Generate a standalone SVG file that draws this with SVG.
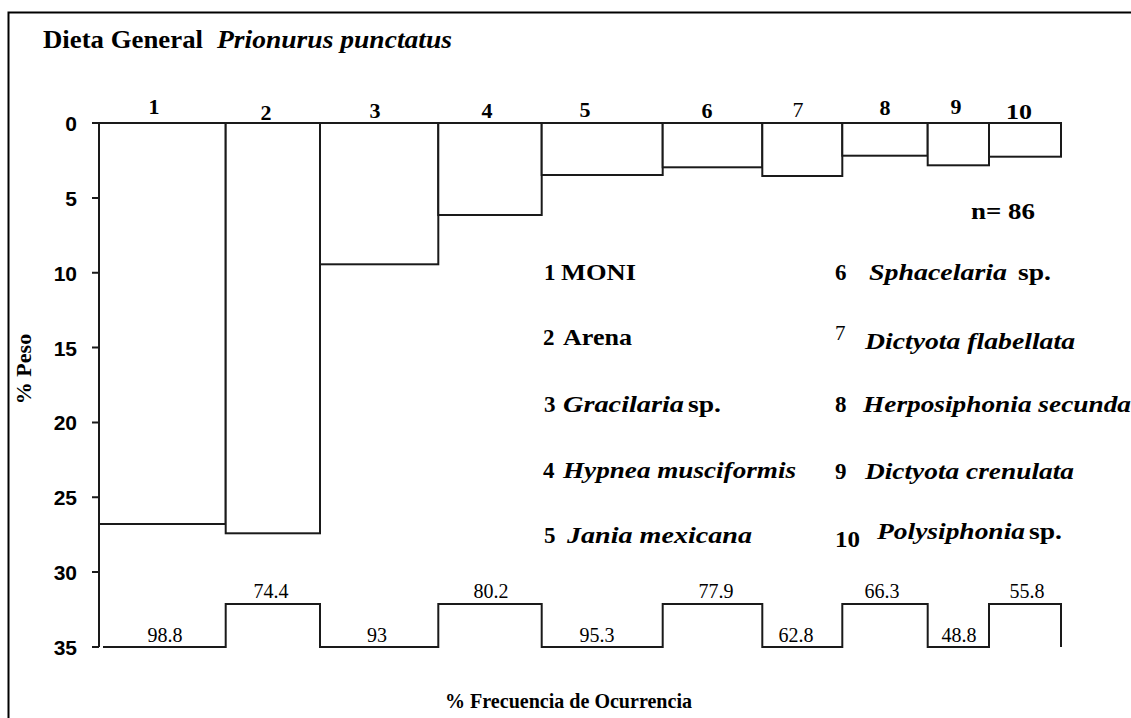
<svg xmlns="http://www.w3.org/2000/svg" width="1131" height="718" viewBox="0 0 1131 718">
<style>
.ln{fill:none;stroke:#1a1a1a;stroke-width:2}
.bar{fill:#fff;stroke:#1a1a1a;stroke-width:2}
.tk{font-family:"Liberation Sans",Arial,sans-serif;font-weight:bold;font-size:21px;fill:#000;text-anchor:end}
.sb{font-family:"Liberation Serif","Times New Roman",serif;font-weight:bold;fill:#000}
.sn{font-family:"Liberation Serif","Times New Roman",serif;font-weight:normal;fill:#000}
.si{font-family:"Liberation Serif","Times New Roman",serif;font-weight:bold;font-style:italic;fill:#000}
.sr{font-family:"Liberation Serif","Times New Roman",serif;fill:#000;font-size:20px;text-anchor:middle}
.num{font-size:22px;text-anchor:middle}
.lg{font-size:23px}
</style>
<rect x="0" y="0" width="1131" height="718" fill="#fff"/>
<rect id="frame" x="8.5" y="12.5" width="1200" height="800" fill="none" stroke="#000" stroke-width="2"/>
<g id="title">
<text class="sb" x="43" y="48" font-size="25" textLength="160" lengthAdjust="spacingAndGlyphs">Dieta General</text>
<text class="si" x="217" y="48" font-size="25" textLength="235" lengthAdjust="spacingAndGlyphs">Prionurus punctatus</text>
</g>
<g id="bars">
<rect class="bar" x="99" y="123" width="126.7" height="401"/>
<rect class="bar" x="225.7" y="123" width="94.3" height="410.3"/>
<rect class="bar" x="320" y="123" width="118.3" height="141.3"/>
<rect class="bar" x="438.3" y="123" width="103.4" height="92"/>
<rect class="bar" x="541.7" y="123" width="121" height="52"/>
<rect class="bar" x="662.7" y="123" width="99.6" height="44.3"/>
<rect class="bar" x="762.3" y="123" width="80" height="53"/>
<rect class="bar" x="842.3" y="123" width="85.4" height="32.7"/>
<rect class="bar" x="927.7" y="123" width="61.3" height="42.3"/>
<rect class="bar" x="989" y="123" width="72" height="33.7"/>
</g>
<g id="axis">
<path class="ln" d="M99 123V647M92 123H99M92 198H99M92 272.7H99M92 347.6H99M92 422.4H99M92 497.2H99M92 572H99M92 647H99"/>
<text class="tk" x="77" y="131">0</text>
<text class="tk" x="77" y="206">5</text>
<text class="tk" x="77" y="281">10</text>
<text class="tk" x="77" y="356">15</text>
<text class="tk" x="77" y="430">20</text>
<text class="tk" x="77" y="505">25</text>
<text class="tk" x="77" y="580">30</text>
<text class="tk" x="77" y="655">35</text>
<text class="sb" font-size="22" text-anchor="middle" transform="translate(31,369) rotate(-90)">% Peso</text>
</g>
<g id="freq">
<path class="ln" d="M103 647H225.7V604H320V647H438.3V604H541.7V647H662.7V604H762.3V647H842.3V604H927.7V647H989V604H1061V647"/>
<text class="sr" x="165" y="642">98.8</text>
<text class="sr" x="271" y="598">74.4</text>
<text class="sr" x="377" y="642">93</text>
<text class="sr" x="491" y="598">80.2</text>
<text class="sr" x="597" y="642">95.3</text>
<text class="sr" x="716" y="598">77.9</text>
<text class="sr" x="796" y="642">62.8</text>
<text class="sr" x="882" y="598">66.3</text>
<text class="sr" x="959" y="642">48.8</text>
<text class="sr" x="1027" y="598">55.8</text>
<text class="sb" x="445" y="708" font-size="22" textLength="247" lengthAdjust="spacingAndGlyphs">% Frecuencia de Ocurrencia</text>
</g>
<g id="cats">
<text class="sb num" x="154" y="114">1</text>
<text class="sb num" x="266" y="120">2</text>
<text class="sb num" x="375" y="118">3</text>
<text class="sb num" x="487" y="118">4</text>
<text class="sb num" x="585" y="117">5</text>
<text class="sb num" x="707" y="118">6</text>
<text class="sn num" x="798" y="117">7</text>
<text class="sb num" x="885" y="115">8</text>
<text class="sb num" x="956" y="114">9</text>
<text class="sb num" x="1019" y="119" textLength="26" lengthAdjust="spacingAndGlyphs">10</text>
<text class="sb" x="971" y="219" font-size="23" textLength="64" lengthAdjust="spacingAndGlyphs">n= 86</text>
</g>
<g id="legend">
<text class="sb lg" x="544" y="280">1<tspan x="561" textLength="75" lengthAdjust="spacingAndGlyphs">MONI</tspan></text>
<text class="sb lg" x="543" y="345">2<tspan x="563" textLength="69" lengthAdjust="spacingAndGlyphs">Arena</tspan></text>
<text class="sb lg" x="544" y="412">3<tspan class="si" x="563" textLength="121" lengthAdjust="spacingAndGlyphs">Gracilaria</tspan><tspan x="688" textLength="33" lengthAdjust="spacingAndGlyphs">sp.</tspan></text>
<text class="sb lg" x="543" y="478">4<tspan class="si" x="563" textLength="233" lengthAdjust="spacingAndGlyphs">Hypnea musciformis</tspan></text>
<text class="sb lg" x="544" y="543">5<tspan class="si" x="567" textLength="185" lengthAdjust="spacingAndGlyphs">Jania mexicana</tspan></text>
<text class="sb lg" x="835" y="280">6<tspan class="si" x="869" textLength="138" lengthAdjust="spacingAndGlyphs">Sphacelaria</tspan><tspan x="1018" textLength="33" lengthAdjust="spacingAndGlyphs">sp.</tspan></text>
<text class="sn" x="835" y="340" font-size="21">7</text>
<text class="si lg" x="865" y="349" textLength="210" lengthAdjust="spacingAndGlyphs">Dictyota flabellata</text>
<text class="sb lg" x="835" y="412">8<tspan class="si" x="863" textLength="268" lengthAdjust="spacingAndGlyphs">Herposiphonia secunda</tspan></text>
<text class="sb lg" x="835" y="479">9<tspan class="si" x="865" textLength="209" lengthAdjust="spacingAndGlyphs">Dictyota crenulata</tspan></text>
<text class="sb lg" x="835" y="547" textLength="25" lengthAdjust="spacingAndGlyphs">10</text>
<text class="sb lg" x="877" y="539"><tspan class="si" textLength="148" lengthAdjust="spacingAndGlyphs">Polysiphonia</tspan><tspan x="1029" textLength="33" lengthAdjust="spacingAndGlyphs">sp.</tspan></text>
</g>
</svg>
